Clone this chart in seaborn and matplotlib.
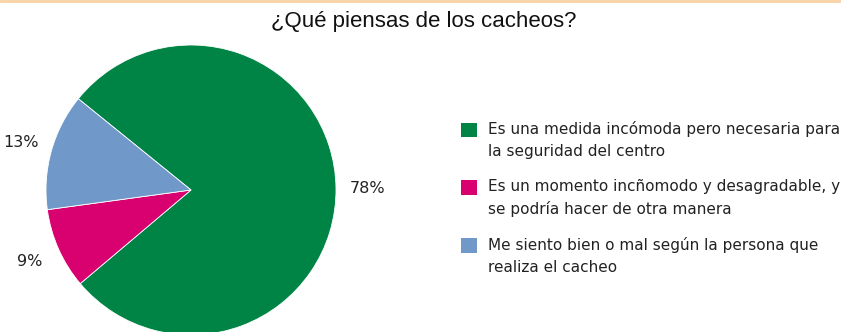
import matplotlib
matplotlib.use("Agg")
import matplotlib.pyplot as plt
import seaborn as sns
from matplotlib.lines import Line2D
from matplotlib.patches import Rectangle
from matplotlib.legend_handler import HandlerPatch

sns.set_theme(style="white")
plt.rcParams['font.family'] = ['DejaVu Sans']

categories = [
    "Es una medida incómoda pero necesaria para\nla seguridad del centro",
    "Es un momento incñomodo y desagradable, y\nse podría hacer de otra manera",
    "Me siento bien o mal según la persona que\nrealiza el cacheo",
]
values = [78, 9, 13]
colors = ["#008445", "#D9006F", "#7098C8"]
title = "¿Qué piensas de los cacheos?"

fig = plt.figure(figsize=(8.41, 3.32), dpi=100)
fig.patch.set_facecolor("white")

# top border line
fig.add_artist(Line2D([0, 1], [0.997, 0.997], transform=fig.transFigure,
                      color="#F8D3A6", lw=2))

r_px = 145
cx, cy = 191, 190
ax = fig.add_axes([(cx - r_px) / 841, (332 - cy - r_px) / 332, 2 * r_px / 841, 2 * r_px / 332])
wedges, texts = ax.pie(values, colors=colors, startangle=141, counterclock=False,
                       labels=[f"{v}%" for v in values], labeldistance=1.22,
                       wedgeprops=dict(edgecolor="white", linewidth=0.6),
                       textprops=dict(fontsize=11.5, color="#222222"))
for t in texts:
    t.set_ha("center")
ax.set_xlim(-1, 1)
ax.set_ylim(-1, 1)
ax.set_aspect("equal")
ax.axis("off")

fig.text(424 / 841, 1 - 22 / 332, title, ha="center", va="center",
         fontsize=16, family="Liberation Sans", color="#111111")


class TopHandler(HandlerPatch):
    def create_artists(self, legend, orig_handle, xdescent, ydescent, width, height,
                       fontsize, trans):
        p = Rectangle((-xdescent, -ydescent + 8.0), width, height,
                      facecolor=orig_handle.get_facecolor(), edgecolor="none",
                      transform=trans)
        return [p]


handles = [Rectangle((0, 0), 1, 1, facecolor=c) for c in colors]
leg = fig.legend(handles, categories, loc="upper left",
                 bbox_to_anchor=(461 / 841, 1 - 121 / 332),
                 frameon=False, fontsize=11, handlelength=1.05, handleheight=1.05,
                 handletextpad=0.75, labelspacing=1.3, borderaxespad=0, borderpad=0,
                 handler_map={Rectangle: TopHandler()})
for t in leg.get_texts():
    t.set_color("#222222")
    t.set_linespacing(1.57)

fig.savefig("out.png", dpi=100)
